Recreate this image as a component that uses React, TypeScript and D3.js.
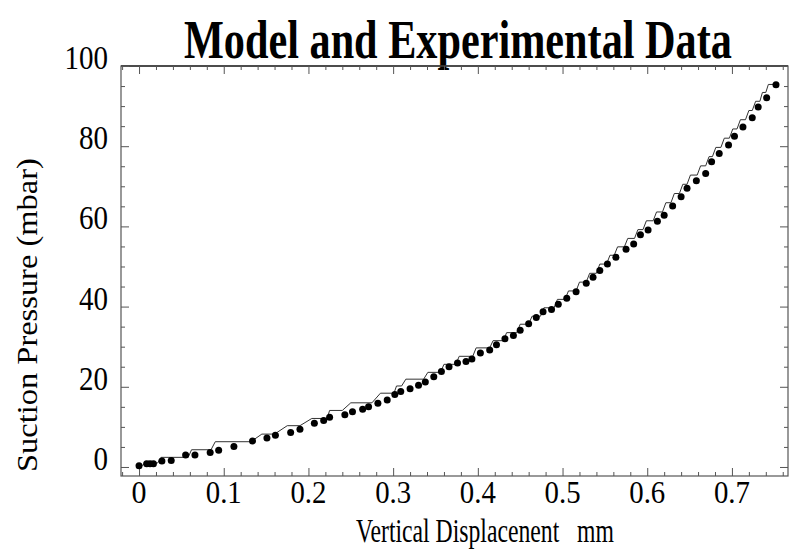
import * as d3 from 'd3';
import React, { useEffect, useRef } from "react";

// experimental points (vertical displacement mm, suction pressure mbar)
const dispX = [0.000, 0.009, 0.013, 0.017, 0.027, 0.038, 0.055, 0.066, 0.084, 0.094,
    0.112, 0.134, 0.151, 0.161, 0.179, 0.190, 0.207, 0.218, 0.225, 0.243,
    0.252, 0.264, 0.271, 0.282, 0.293, 0.302, 0.309, 0.320, 0.330, 0.338,
    0.348, 0.357, 0.366, 0.376, 0.386, 0.393, 0.403, 0.414, 0.422, 0.432,
    0.442, 0.450, 0.460, 0.469, 0.477, 0.487, 0.495, 0.505, 0.516, 0.528,
    0.536, 0.544, 0.553, 0.563, 0.575, 0.584, 0.592, 0.601, 0.612, 0.620,
    0.630, 0.640, 0.647, 0.658, 0.669, 0.676, 0.685, 0.696, 0.703, 0.713,
    0.724, 0.731, 0.741, 0.752];
const pressure = [0.3, 0.8, 0.8, 0.8, 1.5, 1.6, 3.0, 3.0, 3.6, 4.2,
    5.1, 6.5, 7.2, 7.9, 8.6, 9.4, 10.9, 11.6, 12.4, 13.0,
    13.8, 14.4, 15.0, 15.9, 16.7, 18.1, 18.8, 19.5, 20.4, 21.2,
    22.5, 23.8, 25.0, 25.9, 26.3, 26.9, 28.4, 29.2, 30.5, 32.0,
    32.8, 34.1, 35.7, 37.3, 38.7, 39.3, 40.6, 42.1, 43.7, 45.8,
    47.3, 49.0, 50.6, 52.3, 54.3, 55.6, 57.9, 59.1, 61.3, 62.8,
    65.1, 67.4, 69.5, 71.4, 73.2, 76.1, 78.2, 80.3, 82.5, 84.8,
    87.1, 89.8, 92.1, 95.3];

// model: staircase treads (start x, end x, level)
const stepStart = [0.000, 0.007, 0.026, 0.062, 0.090, 0.145, 0.175, 0.204, 0.225, 0.250,
    0.285, 0.304, 0.315, 0.341, 0.360, 0.378, 0.398, 0.418, 0.434, 0.450,
    0.464, 0.478, 0.494, 0.507, 0.520, 0.532, 0.544, 0.556, 0.565, 0.577,
    0.589, 0.599, 0.611, 0.622, 0.632, 0.642, 0.651, 0.663, 0.673, 0.681,
    0.691, 0.701, 0.710, 0.720, 0.728, 0.736, 0.743];
const stepEnd = [0.004, 0.022, 0.058, 0.085, 0.132, 0.160, 0.190, 0.222, 0.240, 0.275,
    0.301, 0.310, 0.336, 0.356, 0.374, 0.394, 0.414, 0.430, 0.446, 0.460,
    0.474, 0.490, 0.503, 0.516, 0.528, 0.540, 0.552, 0.561, 0.573, 0.585,
    0.595, 0.607, 0.618, 0.628, 0.638, 0.647, 0.659, 0.669, 0.677, 0.687,
    0.697, 0.706, 0.716, 0.724, 0.733, 0.740, 0.752];
const stepLevel = [0.4, 1.0, 2.4, 4.3, 6.3, 8.2, 10.3, 12.1, 14.1, 16.0,
    18.4, 20.2, 21.9, 23.6, 25.6, 27.6, 29.7, 31.5, 33.5, 35.6,
    37.6, 39.7, 41.8, 43.9, 46.1, 48.3, 50.6, 52.8, 54.9, 57.0,
    59.2, 61.4, 63.6, 65.9, 68.2, 70.5, 72.8, 75.1, 77.4, 79.7,
    82.0, 84.3, 86.6, 88.9, 91.2, 93.4, 95.4];

const xTicks = [0, 0.1, 0.2, 0.3, 0.4, 0.5, 0.6, 0.7];
const xTickLabels = ["0", "0.1", "0.2", "0.3", "0.4", "0.5", "0.6", "0.7"];
const yTicks = [0, 20, 40, 60, 80, 100];
const yTickLabels = ["0", "20", "40", "60", "80", "100"];

const App: React.FC = () => {
    const ref = useRef<SVGSVGElement>(null);

    useEffect(() => {
        if (!ref.current) return;
        const width = 792;
        const height = 550;
        const left = 121, right = 788, top = 66, bottom = 476;

        const svg = d3.select(ref.current)
            .attr('width', width)
            .attr('height', height);
        svg.selectAll('*').remove();

        const x = d3.scaleLinear().domain([-0.0213, 0.7662]).range([left, right]);
        const y = d3.scaleLinear().domain([-2.25, 100]).range([bottom, top]);

        const font = "'Liberation Serif', 'Times New Roman', serif";
        const frameColor = '#555';

        // the scanned lettering is narrow: squeeze a text horizontally to a given width
        const squeezed = (txt: string, size: number, w: number, place: string, bold = false) => {
            const t = svg.append('text')
                .attr('font-family', font)
                .attr('font-size', size)
                .attr('font-weight', bold ? 'bold' : 'normal')
                .attr('xml:space', 'preserve')
                .text(txt);
            const natural = (t.node() as SVGTextElement).getComputedTextLength() || w;
            t.attr('transform', `${place} scale(${w / natural},1)`);
            return t;
        };

        squeezed('Model and Experimental Data', 54, 548, 'translate(184,58)', true);

        // frame
        svg.append('rect')
            .attr('x', left).attr('y', top)
            .attr('width', right - left).attr('height', bottom - top)
            .attr('fill', 'none')
            .attr('stroke', frameColor)
            .attr('stroke-width', 1.2);
        svg.append('line')
            .attr('x1', left).attr('x2', right)
            .attr('y1', top).attr('y2', top)
            .attr('stroke', '#333')
            .attr('stroke-width', 1.6);

        const xMinor = d3.range(-0.02, 0.7601, 0.02).filter(v => xTicks.every(t => Math.abs(t - v) > 1e-6));
        const yMinor = d3.range(0, 100.1, 5).filter(v => yTicks.indexOf(v) < 0);

        const drawTicks = (g: d3.Selection<SVGGElement, unknown, null, undefined>, axis: d3.Axis<number>) => {
            g.call(axis);
            g.select('.domain').remove();
            g.selectAll('text').remove();
            g.selectAll('line').attr('stroke', frameColor).attr('stroke-width', 1);
        };

        const tickSets: [number[], number][] = [[xTicks, 8], [xMinor, 4]];
        tickSets.forEach(([vals, len]) => {
            drawTicks(svg.append('g').attr('transform', `translate(0,${bottom})`),
                d3.axisBottom<number>(x).tickValues(vals).tickSizeInner(-len).tickSizeOuter(0));
            drawTicks(svg.append('g').attr('transform', `translate(0,${top})`),
                d3.axisTop<number>(x).tickValues(vals).tickSizeInner(-len).tickSizeOuter(0));
        });
        const yTickSets: [number[], number][] = [[yTicks, 8], [yMinor, 4]];
        yTickSets.forEach(([vals, len]) => {
            drawTicks(svg.append('g').attr('transform', `translate(${left},0)`),
                d3.axisLeft<number>(y).tickValues(vals).tickSizeInner(-len).tickSizeOuter(0));
            drawTicks(svg.append('g').attr('transform', `translate(${right},0)`),
                d3.axisRight<number>(y).tickValues(vals).tickSizeInner(-len).tickSizeOuter(0));
        });

        // tick labels
        xTicks.forEach((v, i) => {
            const w = xTickLabels[i].length === 1 ? 15 : 36;
            squeezed(xTickLabels[i], 32, w, `translate(${x(v) - w / 2},503)`);
        });
        yTicks.forEach((v, i) => {
            const w = yTickLabels[i].length * 14.5;
            squeezed(yTickLabels[i], 33, w, `translate(${108 - w},${y(v) + 3})`);
        });

        // axis titles
        squeezed('Vertical Displacenent   mm', 33, 258, 'translate(356,542)');
        squeezed('Suction Pressure (mbar)', 30, 314, 'translate(37,472) rotate(-90)');

        // model staircase
        const modelPts: [number, number][] = [];
        stepLevel.forEach((lv, i) => {
            modelPts.push([stepStart[i], lv]);
            modelPts.push([stepEnd[i], lv]);
        });
        const line = d3.line<[number, number]>()
            .x(d => x(d[0]))
            .y(d => y(d[1]));
        svg.append('path')
            .attr('d', line(modelPts))
            .attr('fill', 'none')
            .attr('stroke', '#333')
            .attr('stroke-width', 1);

        // experimental points
        svg.selectAll('.pt')
            .data(dispX)
            .enter()
            .append('circle')
            .attr('class', 'pt')
            .attr('cx', d => x(d))
            .attr('cy', (d, i) => y(pressure[i]))
            .attr('r', 3.5)
            .attr('fill', '#000');
    }, []);

    return (<svg ref={ref} style={{ position: 'absolute', left: 0, top: 0, background: '#fff' }}></svg>);
}

export default App;
